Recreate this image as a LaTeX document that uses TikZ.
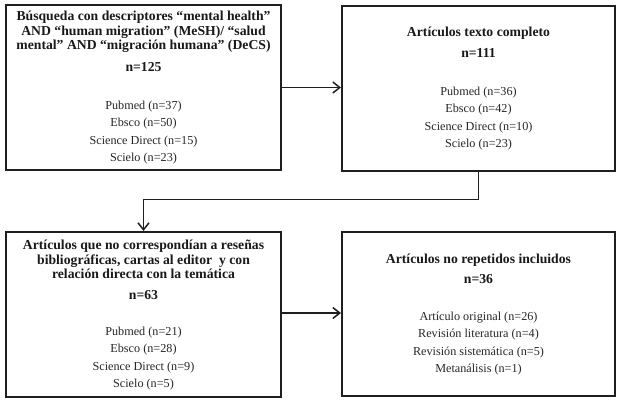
\documentclass[tikz,border=0pt]{standalone}
\usepackage{fontspec}
\setmainfont{Liberation Serif}
\usetikzlibrary{arrows.meta}
\tikzset{
  box/.style={draw=black!88, line width=2pt, rectangle, inner sep=0pt},
  ttl/.style={align=center, inner sep=0pt, font=\bfseries\fontsize{13.7}{14.5}\selectfont, text=black!90},
  num/.style={inner sep=0pt, font=\bfseries\fontsize{13.7}{14.5}\selectfont, text=black!90},
  lst/.style={align=center, inner sep=0pt, font=\fontsize{12.2}{17.6}\selectfont, text=black!85},
  arr/.style={draw=black!88, line width=1.5pt, -{Straight Barb[length=7pt,width=11pt,line width=1.5pt]}}
}
\begin{document}
\begin{tikzpicture}[x=1pt,y=-1pt]
\useasboundingbox (0,0) rectangle (623,405);
% boxes
\node[box, minimum width=275pt, minimum height=165pt] (A) at (143.5,87.5) {};
\node[box, minimum width=273pt, minimum height=165pt] (B) at (478.5,88) {};
\node[box, minimum width=275pt, minimum height=165pt] (C) at (143.5,314.5) {};
\node[box, minimum width=273pt, minimum height=164pt] (D) at (478.5,314) {};
% box A text
\node[ttl] (At) at (143.5,32) {Búsqueda con descriptores “mental health”\\AND “human migration” (MeSH)/ “salud\\mental” AND “migración humana” (DeCS)};
\node[num] (An) at (143.5,67) {n=125};
\node[lst] (Al) at (143.5,132.5) {Pubmed (n=37)\\Ebsco (n=50)\\Science Direct (n=15)\\Scielo (n=23)};
% box B text
\node[ttl] (Bt) at (478.5,33) {Artículos texto completo};
\node[num] (Bn) at (478.5,53) {n=111};
\node[lst] (Bl) at (478.5,118.5) {Pubmed (n=36)\\Ebsco (n=42)\\Science Direct (n=10)\\Scielo (n=23)};
% box C text
\node[ttl] (Ct) at (143.5,259.5) {Artículos que no correspondían a reseñas\\bibliográficas, cartas al editor\ \ y con\\relación directa con la temática};
\node[num] (Cn) at (143.5,295) {n=63};
\node[lst] (Cl) at (143.5,358.5) {Pubmed (n=21)\\Ebsco (n=28)\\Science Direct (n=9)\\Scielo (n=5)};
% box D text
\node[ttl] (Dt) at (478.5,260) {Artículos no repetidos incluidos};
\node[num] (Dn) at (478.5,279) {n=36};
\node[lst] (Dl) at (478.5,343.5) {Artículo original (n=26)\\Revisión literatura (n=4)\\Revisión sistemática (n=5)\\Metanálisis (n=1)};
% connectors
\coordinate (bend) at (478.5,199.5);
\draw[arr] (A.east) -- (B.west |- A.east);
\draw[arr] (B.south) -- (bend) -| (C.north);
\draw[arr] (C.east |- 0,313) -- (D.west |- 0,313);
\end{tikzpicture}
\end{document}
